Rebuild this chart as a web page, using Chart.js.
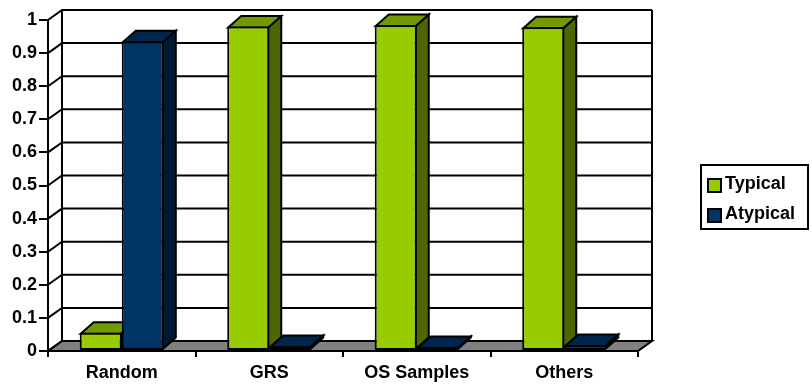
<!DOCTYPE html>
<html>
<head>
<meta charset="utf-8">
<script src="https://cdn.jsdelivr.net/npm/chart.js@4.4.1/dist/chart.umd.min.js"></script>
<style>
  html, body { margin: 0; padding: 0; background: #ffffff; }
  #wrap { width: 812px; height: 387px; }
</style>
</head>
<body>
<div id="wrap"><canvas id="chart" width="812" height="387"></canvas></div>
<script>
// Share of samples classified as typical / atypical per sample source
const categories = ['Random', 'GRS', 'OS Samples', 'Others'];
const seriesNames = ['Typical', 'Atypical'];
const typicalValues = [0.055, 0.98, 0.985, 0.978];
const atypicalValues = [0.936, 0.015, 0.012, 0.018];
const yTickValues = [0, 0.1, 0.2, 0.3, 0.4, 0.5, 0.6, 0.7, 0.8, 0.9, 1];
const yTickLabels = ['0', '0.1', '0.2', '0.3', '0.4', '0.5', '0.6', '0.7', '0.8', '0.9', '1'];

// Colours of the three visible faces of each series' columns
const faceColors = [
  { front: '#99CC00', top: '#739900', side: '#4D6600' },
  { front: '#003366', top: '#00264D', side: '#001A33' }
];
// Oblique depth offsets for the walls and the columns
const WALL = { dx: 14, dy: 10 };
const COL = { dx: 13, dy: 11.5 };
const FONT = { family: "'Liberation Sans', Arial, sans-serif", size: 18, weight: 'bold' };

const depthPlugin = {
  id: 'depth3d',
  beforeDatasetsDraw(chart) {
    const { ctx, chartArea: a, scales: { x, y } } = chart;
    ctx.save();
    ctx.lineWidth = 2;
    ctx.strokeStyle = '#000';
    ctx.lineJoin = 'miter';
    const y0 = y.getPixelForValue(0);
    const yTop = y.getPixelForValue(1);

    // floor
    ctx.beginPath();
    ctx.moveTo(a.left, y0);
    ctx.lineTo(a.right, y0);
    ctx.lineTo(a.right + WALL.dx, y0 - WALL.dy);
    ctx.lineTo(a.left + WALL.dx, y0 - WALL.dy);
    ctx.closePath();
    ctx.fillStyle = '#808080';
    ctx.fill();
    ctx.stroke();

    // side-wall connectors and back-wall gridlines
    yTickValues.forEach(v => {
      const py = y.getPixelForValue(v);
      ctx.beginPath();
      ctx.moveTo(a.left, py);
      ctx.lineTo(a.left + WALL.dx, py - WALL.dy);
      if (v > 0) ctx.lineTo(a.right + WALL.dx, py - WALL.dy);
      ctx.stroke();
    });

    // back wall edges
    ctx.beginPath();
    ctx.moveTo(a.left + WALL.dx, y0 - WALL.dy);
    ctx.lineTo(a.left + WALL.dx, yTop - WALL.dy);
    ctx.moveTo(a.right + WALL.dx, yTop - WALL.dy);
    ctx.lineTo(a.right + WALL.dx, y0 - WALL.dy);
    ctx.stroke();

    // front axis runs a little below the floor
    ctx.beginPath();
    ctx.moveTo(a.left, y0);
    ctx.lineTo(a.left, y0 + 5);
    ctx.stroke();

    // top and side faces of every column, left to right
    categories.forEach((_, i) => {
      chart.data.datasets.forEach((ds, d) => {
        const el = chart.getDatasetMeta(d).data[i];
        const p = el.getProps(['x', 'y', 'base', 'width'], true);
        const L = p.x - p.width / 2 + 1;
        const R = p.x + p.width / 2 - 1;
        const T = p.y + 1;
        const B = p.base - 1;
        const c = faceColors[d];
        ctx.beginPath();
        ctx.moveTo(R, T);
        ctx.lineTo(R + COL.dx, T - COL.dy);
        ctx.lineTo(R + COL.dx, B - COL.dy);
        ctx.lineTo(R, B);
        ctx.closePath();
        ctx.fillStyle = c.side;
        ctx.fill();
        ctx.stroke();
        ctx.beginPath();
        ctx.moveTo(L, T);
        ctx.lineTo(R, T);
        ctx.lineTo(R + COL.dx, T - COL.dy);
        ctx.lineTo(L + COL.dx, T - COL.dy);
        ctx.closePath();
        ctx.fillStyle = c.top;
        ctx.fill();
        ctx.stroke();
      });
    });
    ctx.restore();
  },
  afterDraw(chart) {
    // legend box
    const { ctx } = chart;
    ctx.save();
    ctx.lineWidth = 2;
    ctx.strokeStyle = '#000';
    ctx.fillStyle = '#fff';
    ctx.fillRect(701, 165, 107, 64);
    ctx.strokeRect(701, 165, 107, 64);
    ctx.font = `${FONT.weight} ${FONT.size}px ${FONT.family}`;
    ctx.textBaseline = 'alphabetic';
    ctx.textAlign = 'left';
    seriesNames.forEach((name, k) => {
      const sy = 179 + k * 30;
      ctx.fillStyle = faceColors[k].front;
      ctx.fillRect(708, sy, 13, 13);
      ctx.strokeRect(708, sy, 13, 13);
      ctx.fillStyle = '#000';
      ctx.fillText(name, 725, sy + 10);
    });
    ctx.restore();
  }
};

new Chart(document.getElementById('chart'), {
  type: 'bar',
  data: {
    labels: categories,
    datasets: [
      { label: seriesNames[0], data: typicalValues, backgroundColor: faceColors[0].front,
        borderColor: '#000', borderWidth: 2, borderSkipped: false },
      { label: seriesNames[1], data: atypicalValues, backgroundColor: faceColors[1].front,
        borderColor: '#000', borderWidth: 2, borderSkipped: false }
    ]
  },
  options: {
    responsive: false,
    animation: false,
    devicePixelRatio: 1,
    layout: { padding: { left: 0, top: 20, right: 174, bottom: 0 } },
    datasets: { bar: { barPercentage: 1, categoryPercentage: 0.57 } },
    plugins: { legend: { display: false }, tooltip: { enabled: false } },
    scales: {
      x: {
        offset: true,
        afterFit: s => { s.height = 36; },
        grid: { offset: true, drawOnChartArea: false, drawTicks: true, tickLength: 6, color: '#000', lineWidth: 2 },
        border: { display: true, color: '#000', width: 2 },
        ticks: { color: '#000', font: FONT, padding: 5, maxRotation: 0 }
      },
      y: {
        min: 0,
        max: 1,
        afterFit: s => { s.width = 48; },
        afterBuildTicks: s => { s.ticks = yTickValues.map(v => ({ value: v })); },
        grid: { drawOnChartArea: false, drawTicks: true, tickLength: 9, color: '#000', lineWidth: 2 },
        border: { display: true, color: '#000', width: 2 },
        ticks: {
          color: '#000', font: FONT, padding: 2,
          callback: (v) => { const k = yTickValues.indexOf(v); return k >= 0 ? yTickLabels[k] : ''; }
        }
      }
    }
  },
  plugins: [depthPlugin]
});
</script>
</body>
</html>
